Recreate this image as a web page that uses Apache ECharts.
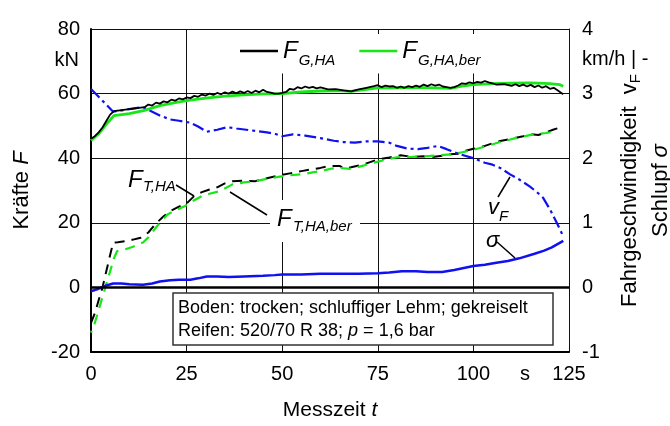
<!DOCTYPE html>
<html><head><meta charset="utf-8">
<script src="https://cdn.jsdelivr.net/npm/echarts@6/dist/echarts.min.js"></script>
<style>html,body{margin:0;padding:0;background:#fff}#c{width:670px;height:426px}</style>
</head><body><div id="c"></div>
<script>
// ---- data ----
const xTicks = [0, 25, 50, 75, 100, 125];
const leftTicks = [-20, 0, 20, 40, 60, 80];
const rightTicks = [-1, 0, 1, 2, 3, 4];

// F_G,HA (measured, kN)
const tFG = [0,1,2,3,4,5,6,8,10,12,14,15,16,17,18,19,20,21,22,23,24,25,26,27,28,29,30,31,32,33,34,35,36,37,38,39,40,41,42,43,44,45,46,47,48,49,50,51,52,53,54,55,56,57,58,59,60,62,64,66,68,70,72,74,75,76,77,78,79,80,81,82,83,84,85,86,87,88,89,90,91,92,93,94,95,96,97,98,99,100,101,102,103,104,105,106,108,110,111,112,113,114,115,116,117,118,119,120,121,122,123,123.5];
const vFG = [46.0,46.8,48.0,49.5,51.5,53.5,54.6,54.9,55.2,55.5,55.8,56.6,56.3,57.2,56.9,57.6,57.3,58.1,57.8,58.5,58.2,58.8,58.6,59.3,59.0,59.7,59.4,60.0,59.6,60.2,59.8,60.4,60.0,60.6,60.1,60.7,60.2,60.8,60.2,60.9,60.4,61.2,60.5,60.3,60.0,60.0,60.2,60.5,61.5,61.2,62.0,61.6,62.2,61.8,62.1,61.6,61.9,61.3,61.4,61.0,60.7,61.3,61.8,62.3,62.6,62.0,62.5,62.2,62.3,61.8,62.2,61.8,62.3,62.0,62.5,62.1,62.8,62.3,62.9,62.5,62.8,62.2,62.0,61.8,62.0,62.5,63.2,63.0,63.5,63.2,63.6,63.4,63.9,63.5,63.2,62.8,62.9,62.4,62.9,62.3,62.8,62.2,62.7,62.0,62.5,61.8,62.3,61.5,61.8,61.0,60.2,59.8];

// F_G,HA,ber (calculated, kN)
const tFGb = [0,2,4,6,10,14,18,22,25,30,35,40,45,50,55,60,65,68,72,75,80,85,90,94,97,100,105,110,115,120,122.5,123.5];
const vFGb = [45.5,47.5,50.5,53.2,53.8,54.8,56.3,57.2,57.8,58.6,59.2,59.6,59.9,60.0,60.5,60.8,60.9,60.7,61.3,61.8,61.8,61.9,61.8,61.6,62.3,62.8,63.1,63.2,63.3,63.1,62.8,62.3];

// F_T,HA (measured, kN)
const tFT = [0,1,2,3,4,5,5.8,7,9,11,13,15,17,19,21,23,25,27,29,31,33,35,37,40,43,46,49,52,55,58,60,62.5,65,66,68,71,73,75,78,81,84,87,89,92,94,96,98,100,103,105,107,110,113,115,117,119,121,123];
const vFT = [-11,-8,-4,0,5,10,13.9,14.0,14.3,14.8,15.4,17.0,19.8,22.0,23.8,25.0,26.0,28.3,29.5,30.3,31.0,32.2,32.9,33.0,32.9,33.8,34.6,35.3,36.0,36.6,37.0,37.6,37.6,37.0,37.2,38.0,38.8,39.6,40.2,40.9,40.4,40.6,40.3,40.8,41.2,41.4,42.3,42.9,43.8,44.6,45.3,46.0,46.8,47.4,47.2,48.0,48.9,49.6];

// F_T,HA,ber (calculated, kN)
const tFTb = [0,1,2,3,4,5,6,6.8,9,11,13.6,15,17.3,20,22,24.6,27,29,31,33.7,37,40,43,46,49.4,52,55,58,60,63,65,67.7,70,73.8,77,80,84,88.7,94,97,100,103,107,111,115,119,122];
const vFTb = [-14,-11,-7,-3,1,5,9,11.2,11.8,12.6,13.9,15.5,19.0,22.6,23.8,25.2,27.0,28.3,29.0,29.8,31.9,32.5,32.9,33.6,34.3,34.7,35.0,35.6,36.0,36.8,37.0,36.7,37.3,38.6,39.5,40.3,40.4,40.7,41.2,41.8,42.6,43.6,45.0,46.2,47.2,47.8,48.4];

// v_F (km/h, right axis)
const tV = [0,2,4,5.8,8,10,13.6,16,18,20.7,23,26,28,30.3,33,35.6,38,42,46,48,50,52.8,56,60,63.5,66,69,72,75,78,80,82.6,85.5,88,90.7,93,96.5,100,103,105,107,109.6,112,114.8,116.5,118.2,120,121.8,123.5];
const vV = [3.07,2.95,2.83,2.72,2.74,2.76,2.79,2.72,2.66,2.60,2.58,2.55,2.49,2.41,2.44,2.48,2.46,2.43,2.40,2.38,2.34,2.37,2.35,2.31,2.27,2.25,2.24,2.26,2.26,2.24,2.19,2.15,2.14,2.16,2.19,2.14,2.06,2.00,1.93,1.90,1.85,1.75,1.67,1.56,1.48,1.39,1.21,1.00,0.79];

// sigma (slip, right axis)
const tS = [0,2,4,5.8,8,10,13.6,16,18,20.7,23,26,28,30.3,33,36,40,45,48,50,55,60,63.5,70,75,78,81.3,85,88,91.8,95,100,103,106,109,112,116,118.5,120.5,122,123.5];
const vS = [-0.06,-0.02,0.03,0.06,0.06,0.05,0.04,0.06,0.09,0.11,0.12,0.12,0.14,0.17,0.17,0.16,0.17,0.18,0.19,0.20,0.20,0.21,0.21,0.21,0.22,0.23,0.25,0.25,0.24,0.24,0.27,0.33,0.35,0.38,0.41,0.45,0.52,0.57,0.62,0.67,0.72];

const zip = (a, b) => a.map((t, i) => [t, b[i]]);
const FONT = '"Liberation Sans", Arial, sans-serif';
const GREEN = '#17e617';
const BLUE = '#1010f0';

const chart = echarts.init(document.getElementById('c'), null, {renderer: 'canvas'});

const itxt = (txt, x, y, size, align) => ({type: 'text', x, y, z: 100,
  style: {text: txt, font: 'italic ' + size + 'px ' + FONT, fill: '#000', align: align || 'left', verticalAlign: 'middle'}});
const txt = (t, x, y, size, align) => ({type: 'text', x, y, z: 100,
  style: {text: t, font: size + 'px ' + FONT, fill: '#000', align: align || 'left', verticalAlign: 'middle'}});
const seg = (x1, y1, x2, y2) => ({type: 'line', z: 100, shape: {x1, y1, x2, y2}, style: {stroke: '#000', lineWidth: 1.5}});
const titleStyle = (size) => ({fontSize: size, fontFamily: FONT, color: '#000',
  rich: {i: {fontSize: size, fontStyle: 'italic', fontFamily: FONT, color: '#000'},
         v: {fontSize: size, fontFamily: FONT, color: '#000'},
         sub: {fontSize: 15, fontFamily: FONT, color: '#000', padding: [12, 0, 0, 0]}}});

const option = {
  animation: false,
  backgroundColor: '#fff',
  textStyle: {fontFamily: FONT},
  grid: {left: 91, right: 101, top: 29, bottom: 74, containLabel: false, outerBoundsMode: 'none'},
  legend: {
    left: 234, top: 34, padding: [5, 6, 5, 6], itemGap: 24,
    itemWidth: 38, itemHeight: 2.5, icon: 'rect', backgroundColor: '#fff',
    data: ['FG,HA', 'FG,HA,ber'],
    formatter: n => n === 'FG,HA' ? '{f|F}{s|G,HA}' : '{f|F}{s|G,HA,ber}',
    textStyle: {fontFamily: FONT, color: '#000', rich: {
      f: {fontSize: 24, fontStyle: 'italic', fontFamily: FONT, color: '#000', verticalAlign: 'middle'},
      s: {fontSize: 15, fontStyle: 'italic', fontFamily: FONT, color: '#000', padding: [20, 0, 0, 1], verticalAlign: 'middle'}
    }}
  },
  xAxis: {
    type: 'value', min: 0, max: 125, interval: 25,
    name: 'Messzeit {i|t}', nameLocation: 'middle', nameGap: 48,
    nameTextStyle: titleStyle(21),
    axisLine: {show: true, onZero: false, lineStyle: {color: '#000', width: 2}},
    axisTick: {show: false},
    axisLabel: {fontSize: 20, color: '#000', margin: 12, fontFamily: FONT, alignMinLabel: 'center', alignMaxLabel: 'center', hideOverlap: false,
      formatter: v => xTicks.includes(v) ? String(v) : ''},
    splitLine: {show: true, lineStyle: {color: '#111', width: 1}}
  },
  yAxis: [
    {
      type: 'value', min: -20, max: 80, interval: 20, position: 'left',
      name: 'Kräfte {i|F}', nameLocation: 'middle', nameRotate: 90, nameGap: 58,
      nameTextStyle: titleStyle(22),
      axisLine: {show: true, onZero: false, lineStyle: {color: '#000', width: 2}},
      axisTick: {show: false},
      axisLabel: {fontSize: 20, color: '#000', margin: 11, fontFamily: FONT, formatter: v => leftTicks.includes(v) ? String(v) : ''},
      splitLine: {show: true, lineStyle: {color: '#111', width: 1}}
    },
    {
      type: 'value', min: -1, max: 4, interval: 1, position: 'right',
      name: 'Fahrgeschwindigkeit  {v|v}{sub|F}', nameLocation: 'middle', nameRotate: 90, nameGap: 47,
      nameTextStyle: titleStyle(22),
      axisLine: {show: true, onZero: false, lineStyle: {color: '#111', width: 1}},
      axisTick: {show: false},
      axisLabel: {fontSize: 20, color: '#000', margin: 13, fontFamily: FONT, formatter: v => rightTicks.includes(v) ? String(v) : ''},
      splitLine: {show: false}
    },
    {
      type: 'value', min: -1, max: 4, interval: 1, position: 'right', offset: 0,
      name: 'Schlupf {i|σ}', nameLocation: 'middle', nameRotate: 90, nameGap: 81,
      nameTextStyle: titleStyle(22),
      axisLine: {show: false}, axisTick: {show: false}, axisLabel: {show: false}, splitLine: {show: false}
    }
  ],
  series: [
    {name: 'FT,HA', type: 'line', yAxisIndex: 0, data: zip(tFT, vFT), symbol: 'none', z: 3,
     lineStyle: {color: '#000', width: 2, type: [10, 7]}},
    {name: 'FT,HA,ber', type: 'line', yAxisIndex: 0, data: zip(tFTb, vFTb), symbol: 'none', z: 3,
     lineStyle: {color: GREEN, width: 2.2, type: [10, 7], dashOffset: 8}},
    {name: 'vF', type: 'line', yAxisIndex: 1, data: zip(tV, vV), symbol: 'none', z: 3,
     lineStyle: {color: BLUE, width: 2.2, type: [12, 4, 3, 4]}},
    {name: 'σ', type: 'line', yAxisIndex: 1, data: zip(tS, vS), symbol: 'none', z: 3,
     lineStyle: {color: BLUE, width: 2.5},
     markLine: {silent: true, symbol: 'none', label: {show: false}, lineStyle: {color: '#000', width: 2.5, type: 'solid'},
       data: [{yAxis: 0}], animation: false}},
    {name: 'FG,HA,ber', type: 'line', yAxisIndex: 0, data: zip(tFGb, vFGb), symbol: 'none', z: 4,
     lineStyle: {color: GREEN, width: 2.8}, itemStyle: {color: GREEN}},
    {name: 'FG,HA', type: 'line', yAxisIndex: 0, data: zip(tFG, vFG), symbol: 'none', z: 5,
     lineStyle: {color: '#000', width: 1.8}, itemStyle: {color: '#000'}}
  ],
  graphic: [
    {type: 'rect', z: 90, shape: {x: 278, y: 30, width: 10, height: 8}, style: {fill: '#fff'}},
    txt('kN', 79, 60, 20, 'right'),
    txt('km/h | -', 582, 59, 20, 'left'),
    txt('s', 525, 374, 20, 'center'),
    // F_T,HA label
    itxt('F', 128, 180, 24), itxt('T,HA', 143, 187, 15),
    seg(176, 185, 194, 196),
    // F_T,HA,ber label with white background
    {type: 'rect', z: 90, shape: {x: 270, y: 200, width: 90, height: 42}, style: {fill: '#fff'}},
    itxt('F', 277, 219, 24), itxt('T,HA,ber', 293, 227, 15),
    seg(230, 192, 267, 215),
    // v_F label
    itxt('v', 488, 208, 22), itxt('F', 499, 217, 15),
    seg(498, 197, 510, 177),
    // sigma label
    itxt('σ', 486, 241, 22),
    seg(497, 242, 515, 258),
    // info box
    {type: 'rect', z: 90, shape: {x: 173, y: 293, width: 380, height: 52}, style: {fill: '#fff', stroke: '#333', lineWidth: 1.5}},
    txt('Boden: trocken; schluffiger Lehm; gekreiselt', 178, 308, 18),
    {type: 'text', x: 178, y: 331, z: 100, style: {text: 'Reifen: 520/70 R 38; {i|p} = 1,6 bar', font: '18px ' + FONT, fill: '#000', verticalAlign: 'middle',
      rich: {i: {fontStyle: 'italic', fontSize: 18, fontFamily: FONT, fill: '#000', color: '#000'}}}}
  ]
};
chart.setOption(option);
</script>
</body></html>
